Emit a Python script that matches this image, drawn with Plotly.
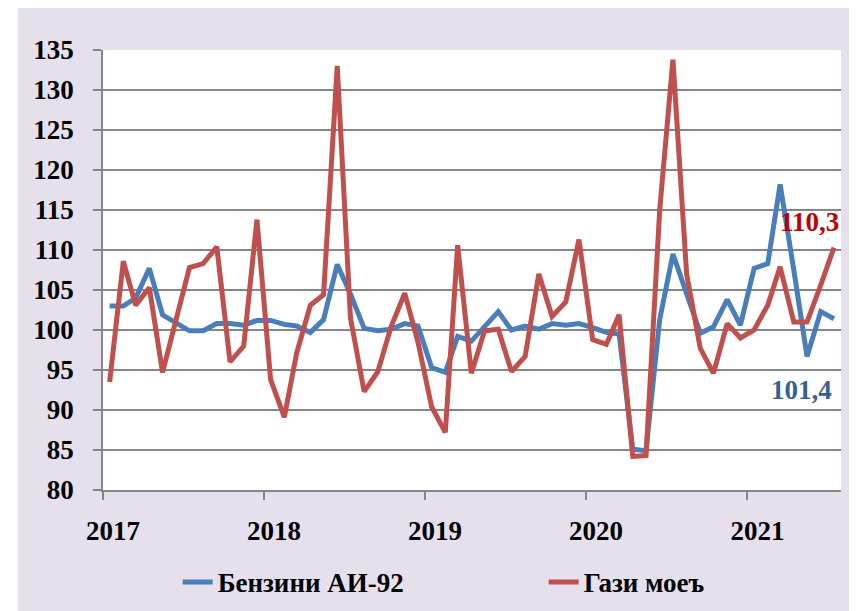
import plotly.graph_objects as go
import pandas as pd

# ---- data ----
months = pd.date_range("2017-01-01", periods=55, freq="MS") + pd.Timedelta(days=15)
benzin = [103.0, 103.0, 104.0, 107.7, 101.9, 100.9, 99.9, 99.9, 100.8, 100.8, 100.6, 101.2,
          101.2, 100.7, 100.5, 99.7, 101.3, 108.2, 104.5, 100.2, 99.9, 100.1, 100.8, 100.5,
          95.3, 94.7, 99.2, 98.6, 100.5, 102.3, 100.0, 100.5, 100.1, 100.8, 100.6, 100.8,
          100.3, 99.7, 99.5, 85.1, 84.9, 101.3, 109.5, 104.6, 99.6, 100.4, 103.8, 100.6,
          107.7, 108.3, 118.2, 107.5, 96.7, 102.3, 101.4]
gazi = [93.5, 108.6, 103.1, 105.3, 94.7, 101.2, 107.8, 108.3, 110.4, 96.0, 98.0, 113.8,
        93.8, 89.1, 97.1, 103.1, 104.4, 133.0, 101.5, 92.3, 94.8, 100.4, 104.6, 98.5,
        90.4, 87.2, 110.6, 94.6, 99.9, 100.1, 94.8, 96.7, 107.0, 101.7, 103.5, 111.3,
        98.8, 98.2, 101.9, 84.2, 84.3, 115.0, 133.8, 107.0, 97.7, 94.6, 100.8, 99.0,
        100.0, 103.1, 107.9, 101.0, 101.0, 105.6, 110.3]
series_names = ["Бензини АИ-92", "Гази моеъ"]
year_ticks = ["2017-01-01", "2018-01-01", "2019-01-01", "2020-01-01", "2021-01-01"]
year_labels = ["2017", "2018", "2019", "2020", "2021"]
y_ticks = [80, 85, 90, 95, 100, 105, 110, 115, 120, 125, 130, 135]

BLUE = "#4A7EBB"
RED = "#C0504D"
GRID = "#868686"
BG = "#E5E0EC"
FONT = "Liberation Serif"
FS = 27

fig = go.Figure()
fig.add_trace(go.Scatter(x=months, y=benzin, mode="lines", name=series_names[0],
                         line=dict(color=BLUE, width=5)))
fig.add_trace(go.Scatter(x=months, y=gazi, mode="lines", name=series_names[1],
                         line=dict(color=RED, width=5)))

def fmt(v):
    return f"{v:.1f}".replace(".", ",")

fig.add_annotation(x=1, xref="paper", y=113.5, yref="y", text=fmt(gazi[-1]),
                   showarrow=False, xanchor="right", yanchor="middle",
                   font=dict(family=FONT, size=FS, color="#C00000", weight="bold"))
fig.add_annotation(x=months[-1], xref="x", y=92.5, yref="y", text=fmt(benzin[-1]),
                   showarrow=False, xanchor="right", yanchor="middle",
                   font=dict(family=FONT, size=FS, color="#376092", weight="bold"))

W, H = 857, 611
L, R, T, B = 95, 24, 42, 129
pw, ph = W - L - R, H - T - B
# white strips on top and left edges of the picture
fig.add_shape(type="rect", xref="paper", yref="paper", layer="above",
              x0=-L / pw - 0.01, x1=(10 - L) / pw, y0=-B / ph - 0.01, y1=(H - T) / ph + 0.01,
              fillcolor="white", line_width=0)
fig.add_shape(type="rect", xref="paper", yref="paper", layer="above",
              x0=-L / pw - 0.01, x1=(W - L) / pw + 0.01, y0=(H - T - 3) / ph, y1=(H - T) / ph + 0.01,
              fillcolor="white", line_width=0)

fig.update_layout(
    width=W, height=H,
    margin=dict(l=L, r=R, t=T, b=B),
    paper_bgcolor=BG, plot_bgcolor="white",
    font=dict(family=FONT, size=FS, color="black", weight="bold"),
    showlegend=True,
    legend=dict(orientation="h", xref="container", yref="container",
                x=0.625, y=0.06, xanchor="center", yanchor="middle",
                bgcolor="rgba(0,0,0,0)", entrywidth=321,
                font=dict(family=FONT, size=FS, color="black", weight="bold")),
    xaxis=dict(type="date", range=["2017-01-01", "2021-08-01"],
               tickvals=year_ticks, ticktext=year_labels,
               showgrid=False, showline=True, linecolor=GRID, linewidth=1.5,
               ticks="outside", ticklen=8, tickcolor=GRID, tickwidth=1.5,
               ticklabelshift=10, ticklabelstandoff=8, zeroline=False,
               tickfont=dict(family=FONT, size=FS, color="black", weight="bold")),
    yaxis=dict(range=[80, 135], tickvals=y_ticks,
               showgrid=True, gridcolor=GRID, gridwidth=1.5,
               showline=True, linecolor=GRID, linewidth=1.5,
               ticks="outside", ticklen=8, tickcolor=GRID, tickwidth=1.5,
               ticklabelstandoff=14, zeroline=False,
               tickfont=dict(family=FONT, size=FS, color="black", weight="bold")),
)

fig.write_html("out.html")
